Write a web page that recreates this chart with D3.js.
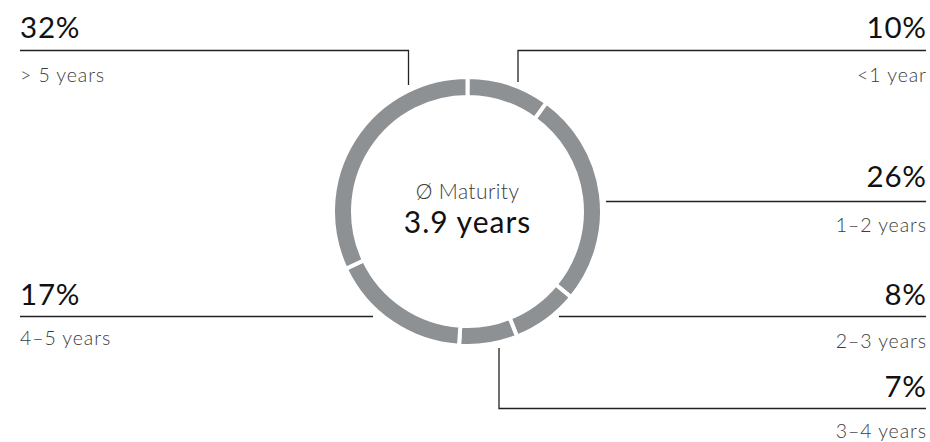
<!DOCTYPE html>
<html>
<head>
<meta charset="utf-8">
<script src="https://cdn.jsdelivr.net/npm/d3@7"></script>
<style>
  body { margin: 0; background: #fff; }
  svg { display: block; font-family: Lato, "Open Sans", sans-serif; }
</style>
</head>
<body>
<svg id="chart" width="930" height="442"></svg>
<script>
// maturity buckets, clockwise from 12 o'clock
const buckets = ["<1 year", "1–2 years", "2–3 years", "3–4 years", "4–5 years", "> 5 years"]
const shares = [10, 26, 8, 7, 17, 32]
const avgLabel = "Ø Maturity"
const avgValue = "3.9 years"

const width = 930, height = 442
const cx = 467.5, cy = 211.5
const outerR = 134.5, innerR = 114.5

// where each callout sits: side, baseline of the big number, y of the rule, x of the elbow (if any)
const callouts = [
  {side: "right", numY: 38, ruleY: 50.5, ruleX: 518, drop: 82},
  {side: "right", numY: 187, ruleY: 201.5, ruleX: 606},
  {side: "right", numY: 305, ruleY: 316.5, ruleX: 559},
  {side: "right", numY: 397, ruleY: 408.5, ruleX: 499, rise: 348},
  {side: "left", numY: 305, ruleY: 316.5, ruleX: 373},
  {side: "left", numY: 38, ruleY: 50.5, ruleX: 408.5, drop: 85}
]
const subGap = [44, 45, 43, 41, 40, 44]

let chart = d3.select("#chart")

let pie = d3.pie().sort(null).value(d => d)
let arc = d3.arc()
  .innerRadius(innerR)
  .outerRadius(outerR)

let ring = chart.append("g").attr("transform", `translate(${cx},${cy})`)

ring.selectAll("path")
  .data(pie(shares))
  .enter().append("path")
  .attr("d", arc)
  .attr("fill", "#8d9194")
  .attr("stroke", "#fff")
  .attr("stroke-width", 4)

ring.append("text")
  .attr("text-anchor", "middle")
  .attr("y", -13)
  .attr("font-size", 21)
  .attr("font-weight", 300)
  .attr("letter-spacing", 0.4)
  .attr("fill", "#3c3c3c")
  .text(avgLabel)

ring.append("text")
  .attr("text-anchor", "middle")
  .attr("y", 21.5)
  .attr("font-size", 30)
  .attr("letter-spacing", 1)
  .attr("fill", "#111")
  .text(avgValue)

// callouts
let left = 20, right = 926
let g = chart.append("g")
let numLs = 0.8, subLs = 0.9

callouts.forEach((c, i) => {
  let isLeft = c.side === "left"
  let x0 = isLeft ? left : c.ruleX
  let x1 = isLeft ? c.ruleX : right
  let pts = [[x0, c.ruleY], [x1, c.ruleY]]
  if (c.drop) {
    if (isLeft) pts.push([c.ruleX, c.drop])
    else pts.unshift([c.ruleX, c.drop])
  }
  if (c.rise) pts.unshift([c.ruleX, c.rise])

  g.append("path")
    .attr("d", d3.line()(pts))
    .attr("fill", "none")
    .attr("stroke", "#222")
    .attr("stroke-width", 1.3)

  let tx = isLeft ? left : right
  let anchor = isLeft ? "start" : "end"

  g.append("text")
    .attr("x", tx)
    .attr("dx", isLeft ? 0 : numLs)
    .attr("y", c.numY)
    .attr("text-anchor", anchor)
    .attr("font-size", 29.5)
    .attr("letter-spacing", numLs)
    .attr("fill", "#111")
    .text(d3.format("d")(shares[i]) + "%")

  g.append("text")
    .attr("x", tx)
    .attr("dx", isLeft ? 0 : subLs)
    .attr("y", c.numY + subGap[i])
    .attr("text-anchor", anchor)
    .attr("font-size", 19.5)
    .attr("font-weight", 300)
    .attr("letter-spacing", subLs)
    .attr("fill", "#3c3c3c")
    .text(buckets[i])
})
</script>
</body>
</html>
